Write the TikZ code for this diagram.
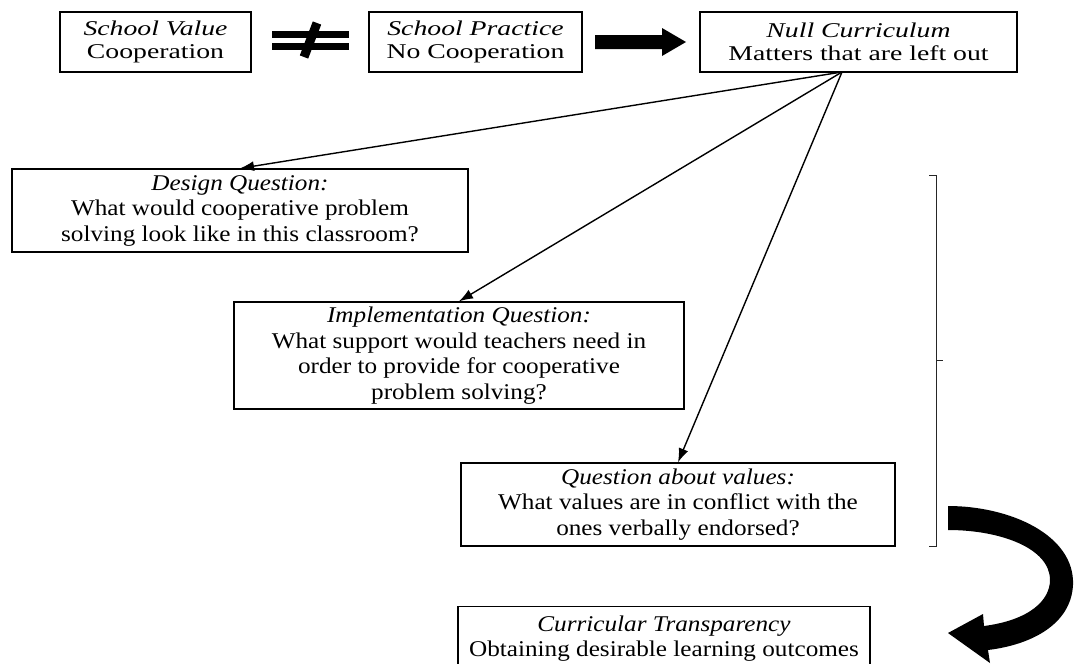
\documentclass[tikz,border=0pt]{standalone}
\usepackage{fontspec}
\setmainfont{Liberation Serif}
\newfontfamily\topfont{Liberation Serif}[FakeStretch=1.32]
\newfontfamily\lowfont{Liberation Serif}[FakeStretch=1.12]
\usetikzlibrary{arrows.meta}
\begin{document}
\begin{tikzpicture}[x=1pt,y=-1pt,
  topbox/.style={draw, line width=1.3pt, inner sep=0pt, align=center,
    font=\topfont\fontsize{21}{23}\selectfont, minimum height=60pt},
  lowbox/.style={draw, line width=1.3pt, inner sep=0pt, align=center,
    font=\lowfont\fontsize{22.5}{25.5}\selectfont},
  link/.style={line width=1.4pt, -{Latex[length=14pt,width=10pt]}}]
\useasboundingbox (0,0) rectangle (1077,664);
% top row
\node[topbox, minimum width=191pt] (val) at (155.5,42) {\textit{School Value}\\Cooperation};
\node[topbox, minimum width=213pt] (prac) at (475.5,42) {\textit{School Practice}\\No Cooperation};
\node[topbox, minimum width=317pt] (null) at (858.5,42) {\textit{Null Curriculum}\\Matters that are left out};
% not equal sign
\fill (272,31) rectangle (349,38);
\fill (272,43) rectangle (349,50);
\draw[line width=9pt] (304,57) -- (317,23);
% thick arrow
\fill (595,35) -- (662,35) -- (662,28) -- (686,42) -- (662,56) -- (662,49) -- (595,49) -- cycle;
% question boxes
\node[lowbox, minimum width=456pt, minimum height=83pt] (des) at (240,210.5)
  {\textit{Design Question:}\\What would cooperative problem\\solving look like in this classroom?};
\node[lowbox, minimum width=450pt, minimum height=107pt] (imp) at (459,355.5)
  {\textit{Implementation Question:}\\What support would teachers need in\\order to provide for cooperative\\problem solving?};
\node[lowbox, minimum width=434pt, minimum height=83pt] (vals) at (678,504.5)
  {\textit{Question about values:}\\What values are in conflict with the\\ones verbally endorsed?};
\node[lowbox, minimum width=412pt, inner ysep=9pt, anchor=north] (cur) at (664,606)
  {\textit{Curricular Transparency}\\Obtaining desirable learning outcomes};
% connectors
\coordinate (hub) at (842,72);
\draw[link] (hub) -- (des.north);
\draw[link] (hub) -- (imp.north);
\draw[link] (hub) -- (vals.north);
% bracket
\coordinate (bt) at (936,175);
\coordinate (bb) at (936,546);
\draw[line width=1pt, black!85] ([xshift=-7pt]bt) -- (bt) -- (bb) -- ([xshift=-7pt]bb);
\draw[line width=1pt, black!85] (936,360) -- (943,360);
% curved thick arrow
\fill (948,506) .. controls (1010,506) and (1075,535) .. (1073,585)
  .. controls (1071,625) and (1030,645) .. (988,650)
  -- (990,663) -- (948,633) -- (983,614) -- (984,626)
  .. controls (1030,620) and (1050,600) .. (1050,580)
  .. controls (1050,548) and (1000,530) .. (948,530) -- cycle;
\end{tikzpicture}
\end{document}
